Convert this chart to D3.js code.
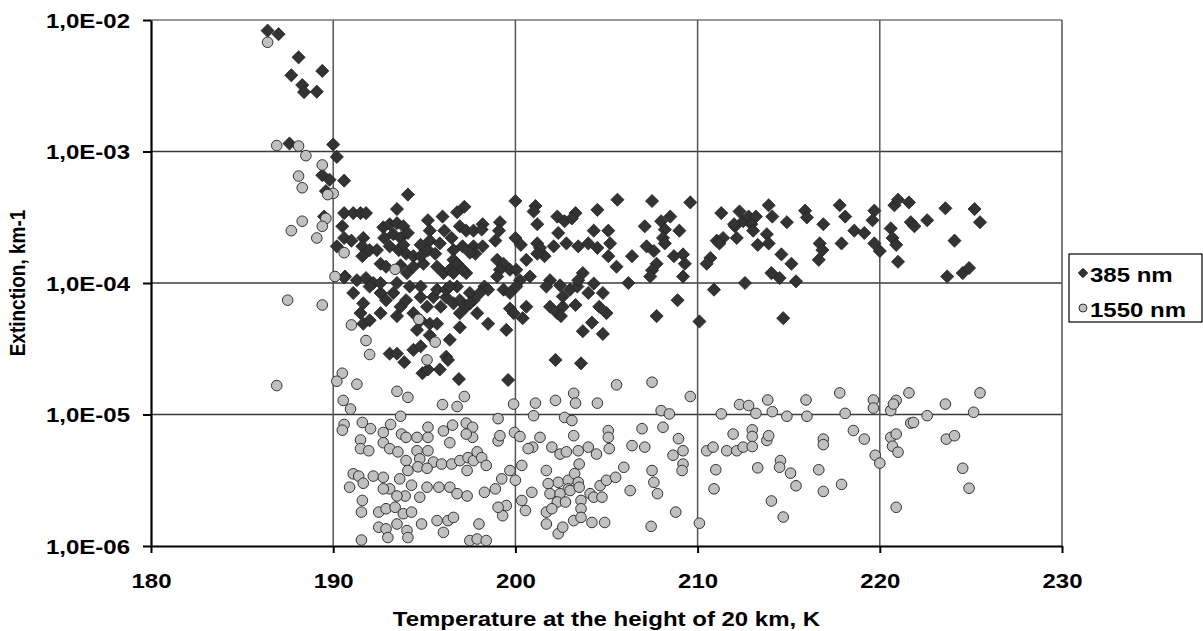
<!DOCTYPE html>
<html>
<head>
<meta charset="utf-8">
<script src="https://cdn.jsdelivr.net/npm/d3@7"></script>
<style>
  body { margin: 0; background: #fff; }
  svg { display: block; }
  text { font-family: Arial, "Liberation Sans", sans-serif; font-weight: bold; fill: #000; }
</style>
</head>
<body>
<div id="vis-holder"></div>
<script>
// Chart size and plot area
const width = 1203;
const height = 631;
const margin = { top: 20, right: 141, bottom: 85, left: 151 };
const stretch = 1.2; // the text in the picture is drawn wider than tall

// Axis ticks
const xTicks = [180, 190, 200, 210, 220, 230];
const yTicks = [1e-6, 1e-5, 1e-4, 1e-3, 1e-2];

// Series names
const seriesNames = ["385 nm", "1550 nm"];

// 385 nm: [temperature K, extinction km-1]
const nm385 = [
  [186.4,8.3e-3],[187.0,7.8e-3],[188.1,5.2e-3],[189.4,4.1e-3],[187.7,3.8e-3],[188.3,3.2e-3],[188.4,2.83e-3],[189.1,2.85e-3],
  [187.6,1.15e-3],[190.0,1.13e-3],[190.2,9.1e-4],
  [189.4,6.6e-4],[189.8,6.1e-4],[190.6,6.0e-4],[189.6,5.0e-4],[194.1,4.7e-4],[193.5,3.65e-4],
  [190.6,3.4e-4],[191.1,3.4e-4],[191.5,3.4e-4],[191.8,3.4e-4],[189.5,3.2e-4],[190.5,2.7e-4],[190.2,1.9e-4],[190.6,2.2e-4],[191.0,2.1e-4],
  [191.65,2.2e-4],[191.6,1.9e-4],[192.0,1.78e-4],[191.6,1.6e-4],[192.75,2.65e-4],
  [193.1,2.8e-4],[193.5,2.85e-4],[193.85,2.7e-4],
  [192.8,2.2e-4],[193.3,2.35e-4],[193.7,2.2e-4],[194.1,2.4e-4],
  [193.1,1.9e-4],[193.6,1.78e-4],[194.0,1.67e-4],[194.4,1.6e-4],
  [194.8,1.95e-4],[195.2,1.78e-4],[195.6,1.67e-4],
  [195.2,3.0e-4],[196.0,3.2e-4],[196.8,3.45e-4],[197.2,3.8e-4],
  [195.3,2.5e-4],[196.1,2.5e-4],[196.5,2.2e-4],[196.95,2.7e-4],[197.3,2.5e-4],[197.7,2.5e-4],
  [196.6,1.78e-4],[197.1,1.9e-4],[197.7,1.9e-4],[196.95,1.33e-4],[197.3,1.19e-4],
  [194.4,1.33e-4],[194.95,1.4e-4],[195.7,1.33e-4],[196.05,1.19e-4],[196.4,1.26e-4],
  [192.6,1.4e-4],[192.9,1.33e-4],[193.7,1.36e-4],[194.05,1.19e-4],
  [190.65,1.12e-4],[190.6,1.1e-4],[191.3,1.05e-4],[191.8,1.09e-4],[192.2,1.0e-4],
  [191.1,8.4e-5],[191.65,7.0e-5],[191.5,5.9e-5],[192.0,9.4e-5],[192.6,8.4e-5],[192.9,7.4e-5],
  [193.3,8.4e-5],[193.7,6.6e-5],[194.0,7.4e-5],[194.4,5.9e-5],[194.8,7.8e-5],[195.15,6.6e-5],[195.5,7.8e-5],[195.9,6.6e-5],
  [196.2,7.8e-5],[196.6,7.0e-5],[196.95,5.9e-5],[197.3,6.6e-5],[197.7,7.4e-5],[197.9,5.9e-5],
  [192.4,1.78e-4],[194.8,1.6e-4],[193.85,1.95e-4],[195.3,2.1e-4],[195.85,2.0e-4],[196.6,1.5e-4],
  [194.8,9.4e-5],[195.7,8.9e-5],[194.2,9.4e-5],[193.5,1.0e-4],[196.2,8.9e-5],[196.8,9.4e-5],[192.6,1.0e-4],
  [191.65,4.9e-5],[192.0,5.2e-5],[192.6,5.9e-5],[193.5,5.6e-5],[194.8,5.2e-5],[195.3,4.9e-5],
  [194.6,4.4e-5],[195.3,4.0e-5],[195.7,4.9e-5],[196.4,3.7e-5],[196.95,4.6e-5],
  [194.4,3.1e-5],[194.8,3.3e-5],[196.2,2.75e-5],[193.1,2.9e-5],[193.5,2.9e-5],
  [193.9,2.5e-5],[194.9,2.06e-5],[195.2,2.2e-5],[195.85,2.2e-5],[196.3,2.6e-5],[196.9,1.86e-5],
  [202.2,2.6e-5],[203.6,2.45e-5],[199.6,1.83e-5],
  [207.75,5.6e-5],[210.1,5.1e-5],[198.5,4.9e-5],[203.7,4.3e-5],[204.8,4.1e-5],[204.2,5.0e-5],[208.9,7.4e-5],
  [199.7,6.4e-5],[200.6,6.6e-5],[199.9,5.9e-5],[200.4,5.4e-5],
  [201.9,6.6e-5],[202.3,5.9e-5],[202.6,6.6e-5],[203.3,6.8e-5],[202.5,5.6e-5],[204.6,6.6e-5],[205.0,5.9e-5],
  [200.0,4.2e-4],[201.1,3.85e-4],[201.2,2.8e-4],[201.0,3.5e-4],[204.5,3.6e-4],[205.6,4.3e-4],[207.5,4.2e-4],[209.6,4.1e-4],
  [202.3,3.2e-4],[202.7,2.95e-4],[203.3,3.4e-4],[203.1,3.1e-4],
  [198.2,2.8e-4],[199.15,2.9e-4],[199.1,2.5e-4],[198.15,2.55e-4],
  [204.3,2.5e-4],[205.1,2.5e-4],[207.1,2.7e-4],[208.0,2.95e-4],[208.5,3.2e-4],[209.0,2.5e-4],[208.2,2.55e-4],
  [200.0,2.2e-4],[200.3,1.95e-4],[201.2,2.0e-4],[201.35,1.85e-4],[202.1,1.9e-4],[201.6,1.6e-4],
  [202.35,2.4e-4],[202.8,2.0e-4],[203.45,1.9e-4],[204.0,2.0e-4],[204.5,1.85e-4],[205.2,2.0e-4],[205.1,1.6e-4],[205.55,1.33e-4],
  [206.4,1.6e-4],[207.2,1.9e-4],[207.6,1.75e-4],[207.75,1.4e-4],[207.5,1.25e-4],[208.1,2.2e-4],[208.2,2.0e-4],
  [208.7,1.6e-4],[209.2,1.65e-4],[209.3,1.4e-4],[209.2,1.12e-4],[207.4,1.12e-4],[206.2,1.0e-4],
  [210.7,1.55e-4],[210.5,1.4e-4],[211.05,2.1e-4],[211.4,2.2e-4],[211.2,2.0e-4],[212.15,2.2e-4],[212.05,2.7e-4],
  [212.5,2.95e-4],[212.3,3.5e-4],[211.3,3.4e-4],[212.6,1.0e-4],[210.9,8.9e-5],
  [198.9,2.1e-4],[198.2,1.9e-4],[197.8,1.67e-4],[197.5,1.7e-4],[196.8,1.4e-4],[197.1,1.26e-4],[196.6,1.19e-4],
  [199.0,1.5e-4],[199.35,1.4e-4],[199.7,1.26e-4],[199.15,1.26e-4],[199.0,1.12e-4],
  [200.05,1.26e-4],[200.6,1.5e-4],[200.8,1.12e-4],[200.25,1.05e-4],[200.05,9.4e-5],
  [198.3,9.4e-5],[198.5,8.9e-5],[199.35,8.9e-5],[199.7,8.4e-5],[197.5,8.4e-5],[198.05,8.4e-5],[196.4,9.4e-5],[196.95,7.4e-5],
  [197.5,7.0e-5],[199.5,4.4e-5],
  [201.2,1.67e-4],[201.9,1.05e-4],[202.45,9.6e-5],[201.7,9.4e-5],[202.6,7.9e-5],[203.0,8.9e-5],[203.4,9.4e-5],
  [203.7,1.19e-4],[203.45,1.05e-4],[204.3,9.9e-5],[204.0,8.4e-5],[204.8,8.4e-5],
  [212.8,3.2e-4],[213.2,3.2e-4],[213.9,3.9e-4],[214.1,3.2e-4],[214.9,2.9e-4],[215.9,3.55e-4],[216.0,3.15e-4],[216.9,2.8e-4],
  [217.8,3.9e-4],[218.1,3.2e-4],[219.7,3.55e-4],[219.6,3.0e-4],[220.8,3.9e-4],[221.0,4.3e-4],[221.6,4.1e-4],[221.7,2.9e-4],
  [221.9,2.7e-4],[222.6,3.0e-4],[223.6,3.7e-4],[225.2,3.65e-4],[225.5,2.9e-4],
  [212.0,2.8e-4],[212.95,2.8e-4],[213.05,2.5e-4],[213.8,2.35e-4],[213.9,2.0e-4],[213.3,1.95e-4],
  [214.6,1.65e-4],[215.15,1.4e-4],[214.05,1.19e-4],[214.5,1.09e-4],[215.4,1.03e-4],[216.7,2.0e-4],[216.85,1.78e-4],[216.65,1.5e-4],
  [217.9,2.0e-4],[218.6,2.5e-4],[219.15,2.4e-4],[219.7,2.0e-4],[220.0,1.75e-4],[220.6,2.6e-4],[220.7,2.2e-4],[220.9,1.95e-4],
  [221.0,1.45e-4],[224.1,2.1e-4],[223.7,1.12e-4],[224.55,1.19e-4],[224.9,1.3e-4],[214.7,5.4e-5]
];

// 1550 nm: [temperature K, extinction km-1]
const nm1550 = [
  [186.4,6.77e-3],[186.9,1.11e-3],[188.1,1.1e-3],[188.5,9.3e-4],[189.4,7.9e-4],[188.1,6.5e-4],[188.3,5.3e-4],[190.0,4.8e-4],
  [189.7,4.7e-4],[189.6,3.1e-4],[188.3,2.95e-4],[187.7,2.5e-4],[189.4,2.7e-4],[189.1,2.2e-4],[190.6,1.7e-4],[190.1,1.12e-4],[193.4,1.27e-4],
  [187.5,7.4e-5],[189.4,6.8e-5],[191.0,4.8e-5],[191.8,3.65e-5],[192.0,2.86e-5],[194.7,5.3e-5],[195.6,3.55e-5],[195.15,2.6e-5],
  [186.9,1.66e-5],[190.5,2.06e-5],[190.2,1.79e-5],[191.3,1.7e-5],[190.55,1.28e-5],[190.95,1.1e-5],
  [193.5,1.5e-5],[194.1,1.35e-5],[196.0,1.19e-5],[196.8,1.15e-5],[197.2,1.37e-5],
  [193.7,9.7e-6],[190.6,8.4e-6],[190.5,7.6e-6],
  [191.6,8.7e-6],[192.05,7.8e-6],[192.75,7.3e-6],[193.15,8.4e-6],[193.75,7.1e-6],[194.0,6.7e-6],[194.6,6.7e-6],[195.2,8.0e-6],
  [195.2,6.7e-6],[196.05,7.5e-6],[196.55,8.3e-6],[197.3,8.6e-6],[197.65,8.0e-6],[197.65,6.7e-6],[197.3,7.1e-6],[196.4,6.1e-6],
  [191.5,6.4e-6],[191.5,5.5e-6],[191.95,5.3e-6],[192.75,6.1e-6],[193.1,5.5e-6],[193.55,5.2e-6],[194.0,4.46e-6],[194.6,5.3e-6],
  [195.2,5.3e-6],[194.75,4.6e-6],[195.5,4.35e-6],[195.95,4.2e-6],[196.5,4.2e-6],[196.95,4.46e-6],[197.4,4.7e-6],[197.7,4.46e-6],[197.9,5.2e-6],
  [191.1,3.54e-6],[191.4,3.4e-6],[190.9,2.8e-6],[191.65,3.0e-6],[192.2,3.4e-6],[192.75,3.33e-6],[193.1,2.72e-6],[192.75,2.72e-6],
  [193.65,3.24e-6],[194.1,3.75e-6],[194.65,4.0e-6],[195.15,3.9e-6],[197.35,3.75e-6],[194.3,2.9e-6],[195.15,2.8e-6],[195.8,2.8e-6],
  [196.4,2.8e-6],[196.8,2.5e-6],[197.35,2.4e-6],[194.75,2.35e-6],[193.95,2.4e-6],[193.5,2.4e-6],
  [191.6,2.22e-6],[191.55,1.81e-6],[192.5,1.81e-6],[192.9,1.92e-6],[193.4,1.97e-6],[193.85,1.76e-6],[194.3,1.81e-6],[194.85,1.47e-6],
  [195.7,1.56e-6],[196.3,1.56e-6],[196.6,1.65e-6],[192.5,1.39e-6],[192.9,1.35e-6],[193.5,1.47e-6],[194.05,1.31e-6],[196.05,1.27e-6],
  [191.55,1.11e-6],[193.0,1.16e-6],[194.1,1.16e-6],[197.5,1.1e-6],[197.9,1.13e-6],
  [205.55,1.68e-5],[207.5,1.76e-5],[209.6,1.37e-5],[199.9,1.2e-5],[201.1,1.22e-5],[201.0,9.8e-6],[202.2,1.28e-5],[203.2,1.45e-5],
  [203.3,1.22e-5],[204.5,1.22e-5],[202.7,9.5e-6],[203.1,9.0e-6],
  [199.05,9.3e-6],[199.05,6.3e-6],[199.15,6.9e-6],[199.95,7.3e-6],[200.25,6.8e-6],[201.35,6.7e-6],[200.95,5.65e-6],[200.7,5.5e-6],
  [202.0,5.65e-6],[202.45,5.0e-6],[202.8,5.2e-6],[203.2,6.9e-6],[203.45,5.3e-6],[204.0,5.65e-6],[204.45,5.0e-6],[205.1,7.55e-6],
  [205.1,6.7e-6],[205.15,5.5e-6],[206.4,5.8e-6],[207.1,5.65e-6],[206.95,7.8e-6],[208.0,1.07e-5],[208.1,8.0e-6],[208.45,1.01e-5],
  [208.95,6.55e-6],[209.2,5.3e-6],[208.65,4.9e-6],[209.2,4.2e-6],[209.15,3.75e-6],
  [198.15,4.7e-6],[198.4,4.1e-6],[198.3,2.56e-6],[198.9,2.72e-6],[199.25,3.24e-6],[199.7,3.75e-6],[200.0,3.16e-6],[200.35,4.1e-6],
  [200.35,2.22e-6],[200.55,1.86e-6],[200.9,2.56e-6],[199.5,2.03e-6],[199.3,1.7e-6],[199.05,1.97e-6],[198.0,1.47e-6],[198.4,1.1e-6],
  [201.7,3.75e-6],[202.35,3.05e-6],[202.9,3.16e-6],[203.25,3.55e-6],[203.5,4.2e-6],[203.45,3.05e-6],[202.9,2.72e-6],[201.8,2.98e-6],
  [201.9,2.5e-6],[202.45,2.5e-6],[202.3,2.16e-6],[202.75,2.16e-6],[203.0,2.64e-6],[203.5,2.8e-6],[203.6,2.22e-6],[203.6,1.92e-6],
  [204.1,2.5e-6],[204.3,2.35e-6],[204.65,2.88e-6],[204.75,2.35e-6],[205.0,3.16e-6],[205.5,3.33e-6],[205.95,3.97e-6],[206.3,2.64e-6],
  [201.7,1.81e-6],[202.0,1.92e-6],[201.7,1.47e-6],[202.35,1.24e-6],[202.6,1.39e-6],[203.2,1.56e-6],[203.6,1.65e-6],[204.2,1.51e-6],[204.9,1.51e-6],
  [207.5,3.75e-6],[207.6,3.05e-6],[207.8,2.5e-6],[208.8,1.81e-6],[207.45,1.41e-6],[210.1,1.49e-6],[210.9,2.72e-6],[211.0,3.8e-6],
  [210.5,5.3e-6],[210.85,5.65e-6],[211.6,5.3e-6],[212.15,5.3e-6],[211.95,7.1e-6],[212.5,5.65e-6],[211.3,1.01e-5],[212.3,1.19e-5],[212.8,1.17e-5],
  [213.2,1.02e-5],[213.85,1.29e-5],[214.1,1.05e-5],[214.9,9.7e-6],[215.95,1.29e-5],[216.0,9.7e-6],[217.8,1.46e-5],[218.1,1.02e-5],
  [219.65,1.29e-5],[219.65,1.12e-5],[220.6,1.07e-5],[220.9,1.28e-5],[220.75,1.2e-5],[221.6,1.46e-5],[222.6,9.8e-6],[223.6,1.2e-5],
  [225.15,1.04e-5],[225.5,1.46e-5],
  [213.0,7.65e-6],[213.0,6.8e-6],[213.0,5.7e-6],[213.8,6.35e-6],[213.9,6.9e-6],[214.55,4.46e-6],[214.5,3.97e-6],[215.1,3.58e-6],
  [215.4,2.87e-6],[213.3,3.93e-6],[214.05,2.2e-6],[214.7,1.66e-6],[216.9,6.5e-6],[216.9,5.9e-6],[216.65,3.8e-6],[216.9,2.6e-6],
  [217.9,2.94e-6],[218.55,7.55e-6],[219.15,6.5e-6],[219.75,4.9e-6],[220.0,4.27e-6],[220.6,6.7e-6],[220.9,7.1e-6],[220.7,5.74e-6],
  [221.0,5.17e-6],[221.7,8.6e-6],[221.85,8.7e-6],[223.65,6.5e-6],[224.1,6.9e-6],[224.55,3.9e-6],[224.9,2.75e-6],[220.9,1.97e-6]
];

const svg = d3.select("#vis-holder")
  .append("svg")
  .attr("width", width)
  .attr("height", height);

const x = d3.scaleLinear()
  .domain([180, 230])
  .range([margin.left, width - margin.right]);

const y = d3.scaleLog()
  .domain([1e-6, 1e-2])
  .range([height - margin.bottom, margin.top]);

const fmtE = (d) => "1,0E-" + String(Math.round(-Math.log10(d))).padStart(2, "0");

// Gridlines
svg.append("g")
  .selectAll("line")
  .data(yTicks.slice(1))
  .enter()
  .append("line")
  .attr("x1", x(180)).attr("x2", x(230))
  .attr("y1", (d) => y(d)).attr("y2", (d) => y(d))
  .attr("stroke", (d) => d === 1e-2 ? "#777" : "#3a3a3a")
  .attr("stroke-width", 1.4);

svg.append("g")
  .selectAll("line")
  .data(xTicks.slice(1))
  .enter()
  .append("line")
  .attr("x1", (d) => x(d)).attr("x2", (d) => x(d))
  .attr("y1", y(1e-2)).attr("y2", y(1e-6))
  .attr("stroke", "#555")
  .attr("stroke-width", 1.5);

// Axes
const xAxis = svg.append("g")
  .attr("transform", `translate(0,${y(1e-6)})`)
  .call(d3.axisBottom(x).tickValues(xTicks).tickSize(7).tickSizeOuter(0));

const yAxis = svg.append("g")
  .attr("transform", `translate(${x(180)},0)`)
  .call(d3.axisLeft(y).tickValues(yTicks).tickFormat(fmtE).tickSize(8).tickSizeOuter(0));

[xAxis, yAxis].forEach((g) => {
  g.attr("font-size", null).attr("font-family", null);
  g.select(".domain").attr("stroke", "#000").attr("stroke-width", 2.2);
  g.selectAll(".tick line").attr("stroke", "#000").attr("stroke-width", 2);
  g.selectAll(".tick text").style("font-size", "20px").attr("transform", `scale(${stretch},1)`);
});
yAxis.selectAll(".tick text").attr("x", -21 / stretch).attr("dy", "0.35em");
xAxis.selectAll(".tick text").attr("y", 42).attr("dy", 0);

// Points
const diamond = d3.symbol().type(d3.symbolDiamond2).size(110);

svg.append("g")
  .selectAll("path")
  .data(nm385)
  .enter()
  .append("path")
  .attr("d", diamond)
  .attr("transform", (d) => `translate(${x(d[0])},${y(d[1])})`)
  .attr("fill", "#333")
  .attr("stroke", "#222")
  .attr("stroke-width", 0.8);

svg.append("g")
  .selectAll("circle")
  .data(nm1550)
  .enter()
  .append("circle")
  .attr("cx", (d) => x(d[0]))
  .attr("cy", (d) => y(d[1]))
  .attr("r", 5.3)
  .attr("fill", "#c0c0c0")
  .attr("stroke", "#333")
  .attr("stroke-width", 1);

// Axis titles
svg.append("text")
  .attr("transform", `translate(${(x(180) + x(230)) / 2},626) scale(${stretch},1)`)
  .attr("text-anchor", "middle")
  .style("font-size", "20px")
  .text("Temperature at the height of 20 km, K");

svg.append("text")
  .attr("transform", `translate(25,${(y(1e-2) + y(1e-6)) / 2}) rotate(-90) scale(1,${stretch})`)
  .attr("text-anchor", "middle")
  .style("font-size", "19px")
  .text("Extinction, km-1");

// Legend
const legend = svg.append("g").attr("transform", "translate(1069,254)");
legend.append("rect")
  .attr("width", 133).attr("height", 68)
  .attr("fill", "#fff").attr("stroke", "#000").attr("stroke-width", 1.2);

legend.append("path")
  .attr("d", d3.symbol().type(d3.symbolDiamond2).size(55))
  .attr("transform", "translate(14,19)")
  .attr("fill", "#333").attr("stroke", "#222");
legend.append("circle")
  .attr("cx", 14).attr("cy", 54).attr("r", 4)
  .attr("fill", "#c0c0c0").attr("stroke", "#333");

legend.selectAll("text")
  .data(seriesNames)
  .enter()
  .append("text")
  .attr("transform", (d, i) => `translate(21,${21 + i * 34.5}) scale(${stretch},1)`)
  .attr("dy", "0.35em")
  .style("font-size", "20px")
  .text((d) => d);
</script>
</body>
</html>
